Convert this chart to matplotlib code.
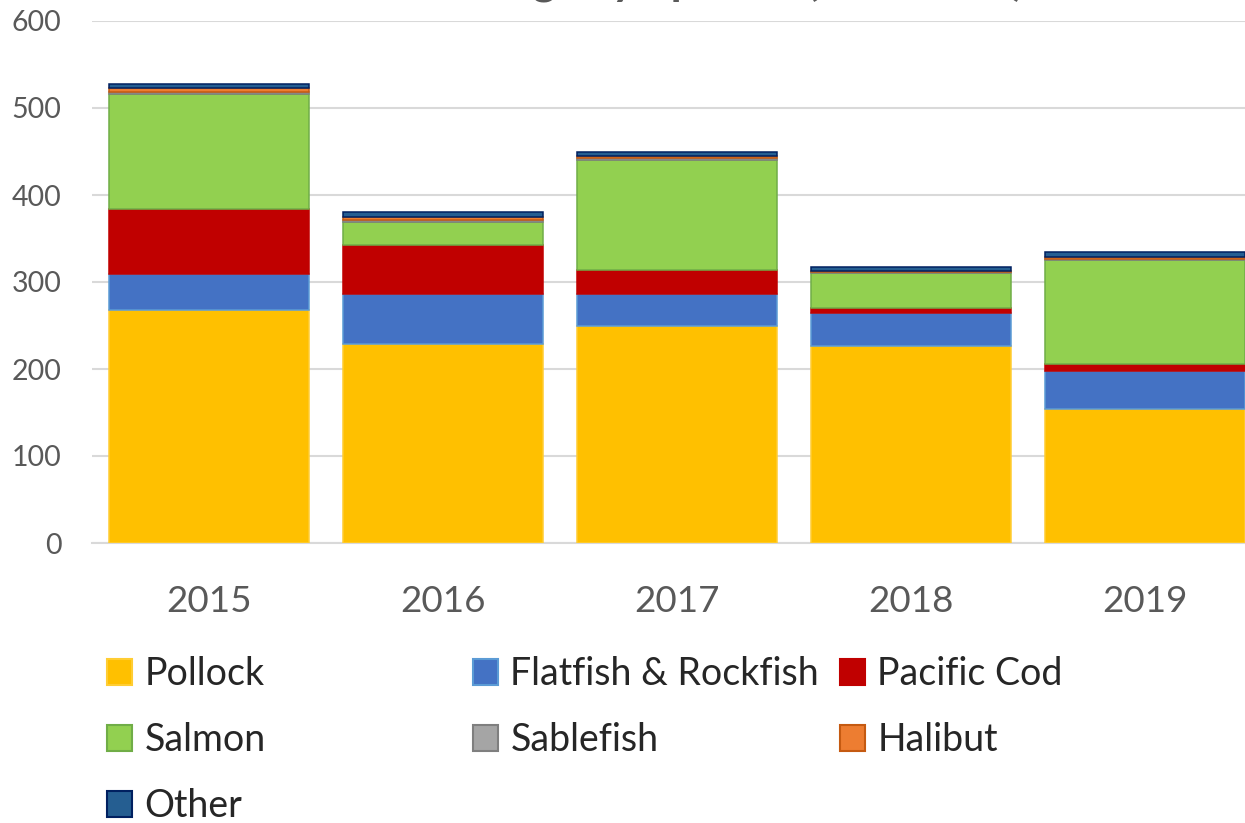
import matplotlib
matplotlib.use("Agg")
import matplotlib.pyplot as plt
from matplotlib.patches import Patch
import numpy as np

years = ["2015", "2016", "2017", "2018", "2019"]
species = ["Pollock", "Flatfish & Rockfish", "Pacific Cod", "Salmon", "Sablefish", "Halibut", "Other"]
pollock = [268, 229, 249, 226, 154]
flatfish = [41, 57, 37, 38, 44]
cod = [75, 57, 28, 6, 8]
salmon = [132, 26, 126, 40, 119]
sablefish = [2, 2, 2, 1, 2]
halibut = [5, 4, 3, 2, 2]
other = [5, 5, 4, 4, 5]
yticks = [0, 100, 200, 300, 400, 500, 600]
title = "Landings by Species ($ Millions)"

series = [pollock, flatfish, cod, salmon, sablefish, halibut, other]
faces = ["#FFC000", "#4472C4", "#C00000", "#92D050", "#A5A5A5", "#ED7D31", "#255E91"]
edges = ["#FFCD33", "#5B9BD5", "#C00000", "#70AD47", "#7F7F7F", "#C55A11", "#002060"]

plt.rcParams['font.family'] = ['Lato', 'DejaVu Sans']

W, H = 1245, 823
fig = plt.figure(figsize=(W / 100, H / 100), dpi=100)
ax = fig.add_axes([92 / W, (H - 543) / H, 1170 / W, (543 - 21) / H])

x = np.arange(len(years))
bottom = np.zeros(len(years))
handles = []
for name, vals, fc, ec in zip(species, series, faces, edges):
    ax.bar(x, vals, width=0.855, bottom=bottom, color=fc, edgecolor=ec, linewidth=1.1, zorder=3)
    bottom += np.array(vals)
    handles.append(Patch(facecolor=fc, edgecolor=ec, linewidth=1.5, label=name))

ax.set_xlim(-0.5, 4.5)
ax.set_ylim(0, 600)
ax.set_yticks(yticks)
ax.set_xticks(x)
ax.set_xticklabels(years)
ax.yaxis.grid(True, color="#D9D9D9", linewidth=1.5, zorder=0)
ax.set_axisbelow(True)
for s in ["top", "right", "left"]:
    ax.spines[s].set_visible(False)
ax.spines["bottom"].set_color("#D9D9D9")
ax.spines["bottom"].set_linewidth(1.5)
ax.tick_params(axis="y", length=0, pad=22, labelsize=20.5, labelcolor="#595959")
ax.tick_params(axis="x", length=0, pad=30, labelsize=26.5, labelcolor="#595959")

fig.text(712 / W, 1 + 6 / H, title, ha="center", va="baseline", fontsize=32,
         fontweight="bold", color="#595959", parse_math=False)

col_x = [107, 473, 840]
cols = [[0, 3, 6], [1, 4], [2, 5]]
for cx, idxs in zip(col_x, cols):
    leg = fig.legend(handles=[handles[i] for i in idxs], loc="upper left",
                     bbox_to_anchor=(cx / W, 1 - 656 / H), frameon=False,
                     fontsize=27, handlelength=0.67, handleheight=0.67,
                     handletextpad=0.33, labelspacing=0.8, borderaxespad=0, borderpad=0)
    for t in leg.get_texts():
        t.set_color("#262626")

fig.savefig("out.png", dpi=100)
